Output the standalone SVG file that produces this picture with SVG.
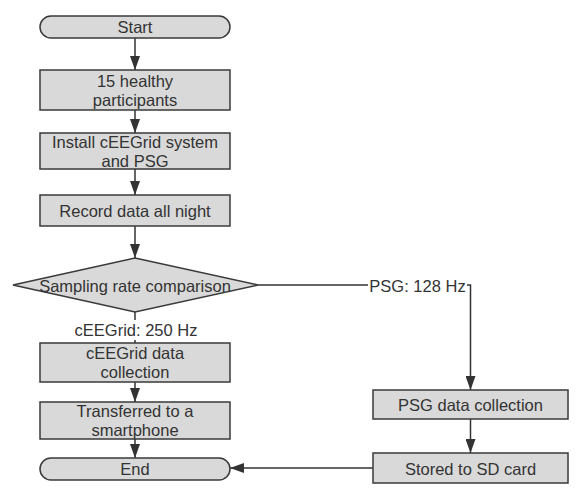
<svg xmlns="http://www.w3.org/2000/svg" width="586" height="490" viewBox="0 0 586 490">
<style>
.n{fill:#d9d9d9;stroke:#3a3a3a;stroke-width:1.5}
.t{font-family:"Liberation Sans",Arial,sans-serif;font-size:16.5px;fill:#333;text-anchor:middle}
.c{fill:none;stroke:#333;stroke-width:1.5}
.lb{fill:#fff}
</style>
<defs>
<marker id="a" viewBox="0 0 14 10" refX="14" refY="5" markerWidth="14" markerHeight="10" markerUnits="userSpaceOnUse" orient="auto">
<path d="M0,0 L14,5 L0,10 Z" fill="#333"/>
</marker>
</defs>
<rect width="586" height="490" fill="#fff"/>
<g id="connectors">
<path class="c" d="M135,38 V70" marker-end="url(#a)"/>
<path class="c" d="M135,110 V133" marker-end="url(#a)"/>
<path class="c" d="M135,169 V195" marker-end="url(#a)"/>
<path class="c" d="M135,226 V258" marker-end="url(#a)"/>
<path class="c" d="M135,312 V343"/>
<path class="c" d="M135,382 V402" marker-end="url(#a)"/>
<path class="c" d="M135,439 V458" marker-end="url(#a)"/>
<path class="c" d="M258,285 H470.5 V390" marker-end="url(#a)"/>
<path class="c" d="M470.5,419 V453" marker-end="url(#a)"/>
<path class="c" d="M373,468 H230" marker-end="url(#a)"/>
<g id="label-ceegrid">
<rect class="lb" x="74" y="320" width="124" height="20"/>
<text class="t" x="136" y="336">cEEGrid: 250 Hz</text>
</g>
<g id="label-psg">
<rect class="lb" x="368" y="276" width="99" height="20"/>
<text class="t" x="417.5" y="292">PSG: 128 Hz</text>
</g>
</g>
<g id="start">
<rect class="n" x="40" y="16" width="190" height="22" rx="11"/>
<text class="t" x="135" y="33">Start</text>
</g>
<g id="participants">
<rect class="n" x="40" y="70" width="190" height="40"/>
<text class="t" x="135" y="87">15 healthy<tspan x="135" dy="19">participants</tspan></text>
</g>
<g id="install">
<rect class="n" x="40" y="133" width="190" height="36"/>
<text class="t" x="135" y="148">Install cEEGrid system<tspan x="135" dy="19">and PSG</tspan></text>
</g>
<g id="record">
<rect class="n" x="40" y="195" width="190" height="31"/>
<text class="t" x="135" y="216.5">Record data all night</text>
</g>
<g id="decision">
<polygon class="n" points="135,258 258,285 135,312 13,285"/>
<text class="t" x="135" y="292">Sampling rate comparison</text>
</g>
<g id="ceegrid-collection">
<rect class="n" x="40" y="343" width="190" height="39"/>
<text class="t" x="135" y="359">cEEGrid data<tspan x="135" dy="19">collection</tspan></text>
</g>
<g id="transferred">
<rect class="n" x="40" y="402" width="190" height="37"/>
<text class="t" x="135" y="417">Transferred to a<tspan x="135" dy="19">smartphone</tspan></text>
</g>
<g id="end">
<rect class="n" x="40" y="458" width="190" height="22" rx="11"/>
<text class="t" x="135" y="475">End</text>
</g>
<g id="psg-collection">
<rect class="n" x="373" y="390" width="195" height="29"/>
<text class="t" x="470.5" y="410.5">PSG data collection</text>
</g>
<g id="stored">
<rect class="n" x="373" y="453" width="195" height="30"/>
<text class="t" x="470.5" y="474.5">Stored to SD card</text>
</g>
</svg>
